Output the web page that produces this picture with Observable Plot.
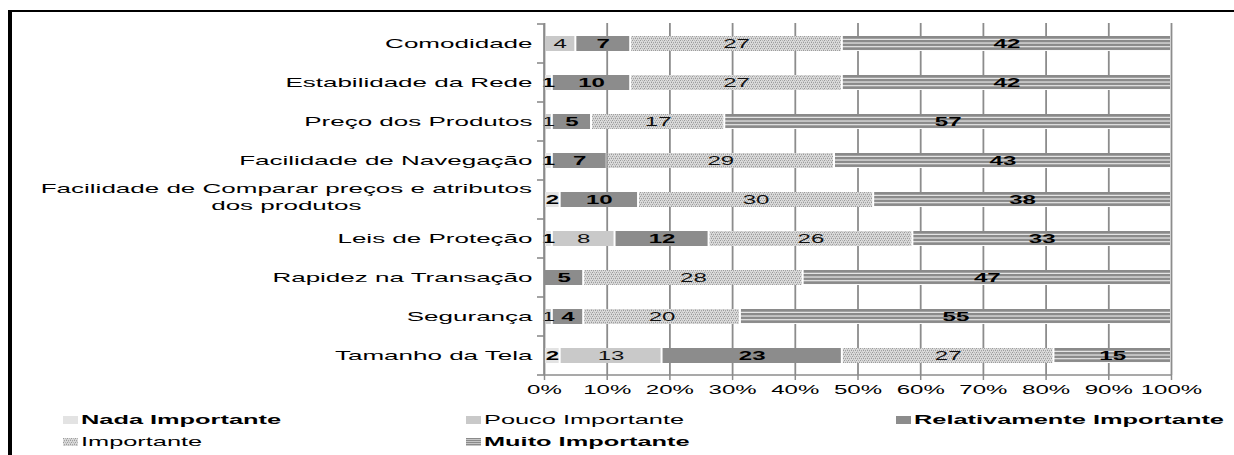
<!DOCTYPE html>
<html>
<head>
<meta charset="utf-8">
<script src="https://cdn.jsdelivr.net/npm/d3@7"></script>
<script src="https://cdn.jsdelivr.net/npm/@observablehq/plot@0.6"></script>
<style>
  html, body { margin: 0; padding: 0; background: #fff; }
  #wrap { position: relative; width: 1234px; height: 455px; overflow: hidden; font-family: "Liberation Sans", Arial, sans-serif; }
  #chart { position: absolute; left: 0; top: 0; }
  .border-left { position: absolute; left: 8px; top: 10px; width: 4px; height: 445px; background: #000; }
  .border-top { position: absolute; left: 8px; top: 10px; width: 1226px; height: 2px; background: #000; }
  .leg { position: absolute; height: 16px; line-height: 16px; font-size: 13px; color: #000; white-space: nowrap; }
  .leg svg { position: absolute; left: 0; top: 4px; }
  .leg span { position: absolute; left: 18px; top: 0; display: inline-block; transform-origin: 0 50%; }
  #chart svg [aria-label="x-axis tick"] { stroke: #8c8c8c; stroke-width: 1.5; }
</style>
</head>
<body>
<div id="wrap">
  <div id="chart"></div>
  <div id="legend"></div>
  <div class="border-left"></div>
  <div class="border-top"></div>
</div>
<script>
// ---- data ----
const categories = [
  "Comodidade",
  "Estabilidade da Rede",
  "Preço dos Produtos",
  "Facilidade de Navegação",
  "Facilidade de Comparar preços e atributos\ndos produtos",
  "Leis de Proteção",
  "Rapidez na Transação",
  "Segurança",
  "Tamanho da Tela"
];
const levels = ["Nada Importante", "Pouco Importante", "Relativamente Importante", "Importante", "Muito Importante"];
const nada          = [0, 1, 0, 1, 2, 1, 0, 0, 2];
const pouco         = [4, 0, 1, 0, 0, 8, 0, 1, 13];
const relativamente = [7, 10, 5, 7, 10, 12, 5, 4, 23];
const importante    = [27, 27, 17, 29, 30, 26, 28, 20, 27];
const muito         = [42, 42, 57, 43, 38, 33, 47, 55, 15];
const xTicks = [0, 0.1, 0.2, 0.3, 0.4, 0.5, 0.6, 0.7, 0.8, 0.9, 1];
const boldLevels = ["Nada Importante", "Relativamente Importante", "Muito Importante"];

// ---- table ----
const series = [nada, pouco, relativamente, importante, muito];
const table = [];
categories.forEach((c, i) => levels.forEach((l, j) => {
  if (series[j][i] > 0) table.push({cat: c, level: l, value: series[j][i]});
}));

const fills = ["#e3e3e3", "#c9c9c9", "#8c8c8c", "url(#pImp)", "url(#pMuito)"];
const FONT = '"Liberation Sans", Arial, sans-serif';

const plot = Plot.plot({
  width: 1234,
  height: 405,
  marginLeft: 544,
  marginRight: 63,
  marginTop: 23,
  marginBottom: 30,
  style: {fontFamily: FONT, fontSize: "13px", color: "#000", background: "transparent", overflow: "visible"},
  x: {domain: [0, 1], ticks: xTicks, tickFormat: d3.format(".0%"), tickSize: 5, tickPadding: 4, label: null},
  y: {domain: categories, paddingInner: 0.62, paddingOuter: 0.31, tickSize: 0, tickPadding: 12, label: null},
  color: {domain: levels, range: fills},
  marks: [
    Plot.ruleX(xTicks, {stroke: "#8c8c8c", strokeWidth: 1.8}),
    Plot.barX(table, Plot.stackX({
      x: "value", y: "cat", fill: "level", offset: "normalize",
      insetLeft: 1, insetRight: 1
    })),
    Plot.text(table, Plot.stackX({
      x: "value", y: "cat", z: "level", offset: "normalize",
      text: d => boldLevels.includes(d.level) ? "" : String(d.value),
      fill: "#111", fontSize: 13, fontFamily: FONT
    })),
    Plot.text(table, Plot.stackX({
      x: "value", y: "cat", z: "level", offset: "normalize",
      text: d => boldLevels.includes(d.level) ? String(d.value) : "",
      fill: "#000", fontSize: 13, fontWeight: "bold", fontFamily: FONT
    }))
  ]
});

document.getElementById("chart").appendChild(plot);
const svg = plot.tagName.toLowerCase() === "svg" ? plot : plot.querySelector("svg");

// patterns
d3.select(svg).insert("defs", ":first-child").html(`
  <pattern id="pImp" patternUnits="userSpaceOnUse" width="4" height="4">
    <rect width="4" height="4" fill="#dadada"/>
    <rect x="0" y="0" width="1" height="1" fill="#9a9a9a"/>
    <rect x="2" y="0" width="1" height="1" fill="#b4b4b4"/>
    <rect x="1" y="2" width="1" height="1" fill="#a4a4a4"/>
    <rect x="3" y="2" width="1" height="1" fill="#9a9a9a"/>
    <rect x="3" y="1" width="1" height="1" fill="#c0c0c0"/>
    <rect x="1" y="3" width="1" height="1" fill="#c4c4c4"/>
  </pattern>
  <pattern id="pMuito" patternUnits="objectBoundingBox" patternContentUnits="objectBoundingBox" x="0" y="0" width="1" height="0.25">
    <rect width="1" height="0.25" fill="#ffffff"/>
    <rect width="1" height="0.185" fill="#8a8a8a"/>
  </pattern>
`);

// axis lines and band boundary ticks
const ys = plot.scale("y");
const xs = plot.scale("x");
const x0 = xs.apply(0), x1 = xs.apply(1);
const step = ys.step, bw = ys.bandwidth;
const bounds = categories.map(c => ys.apply(c) - (step - bw) / 2);
bounds.push(ys.apply(categories[categories.length - 1]) + bw + (step - bw) / 2);
const g = d3.select(svg).append("g").attr("stroke", "#8c8c8c").attr("stroke-width", 1.6);
g.append("line").attr("x1", x0).attr("x2", x0).attr("y1", bounds[0]).attr("y2", bounds[bounds.length - 1]);
g.append("line").attr("x1", x0).attr("x2", x1).attr("y1", bounds[bounds.length - 1]).attr("y2", bounds[bounds.length - 1]);
g.selectAll("line.bt").data(bounds).join("line").attr("class", "bt")
  .attr("x1", x0 - 7).attr("x2", x0).attr("y1", d => d).attr("y2", d => d);

// horizontally stretched text (as in the reference)
function toPx(v) {
  if (v == null || v === "") return 0;
  const n = parseFloat(v);
  if (!isFinite(n)) return 0;
  return /em$/.test(String(v).trim()) ? n * 13 : n;
}
const S_Y = 2.0, S_OTHER = 1.85;
svg.querySelectorAll("text").forEach(t => {
  const isY = !!t.closest('[aria-label^="y-axis"]');
  const s = isY ? S_Y : S_OTHER;
  let extra = "";
  if (isY && t.textContent.startsWith("Facilidade de Comparar")) {
    const w = t.getBBox().width;
    t.setAttribute("text-anchor", "middle");
    extra = ` translate(${-w * s / 2},0)`;
    const tspans = t.querySelectorAll("tspan");
    if (tspans.length === 2) {
      tspans[0].setAttribute("dy", "-0.37em");
      tspans[1].setAttribute("dy", "1.35em");
    }
  }
  const ax = toPx(t.getAttribute("x"));
  const tr = t.getAttribute("transform") || "";
  t.setAttribute("transform", `${tr}${extra} translate(${ax},0) scale(${s},1) translate(${-ax},0)`);
});

// legend
const legendPos = [
  {x: 63, y: 420}, {x: 466, y: 420}, {x: 896, y: 420},
  {x: 63, y: 442}, {x: 466, y: 442}
];
const legend = document.getElementById("legend");
levels.forEach((l, i) => {
  const p = legendPos[i];
  const div = document.createElement("div");
  div.className = "leg";
  div.style.left = p.x + "px";
  div.style.top = (p.y - 8) + "px";
  div.innerHTML = `<svg width="15" height="8"><rect width="15" height="8" fill="${fills[i]}"/></svg>` +
    `<span style="font-weight:${boldLevels.includes(l) ? "bold" : "normal"};transform:scaleX(1.95)">${l}</span>`;
  legend.appendChild(div);
});
</script>
</body>
</html>
